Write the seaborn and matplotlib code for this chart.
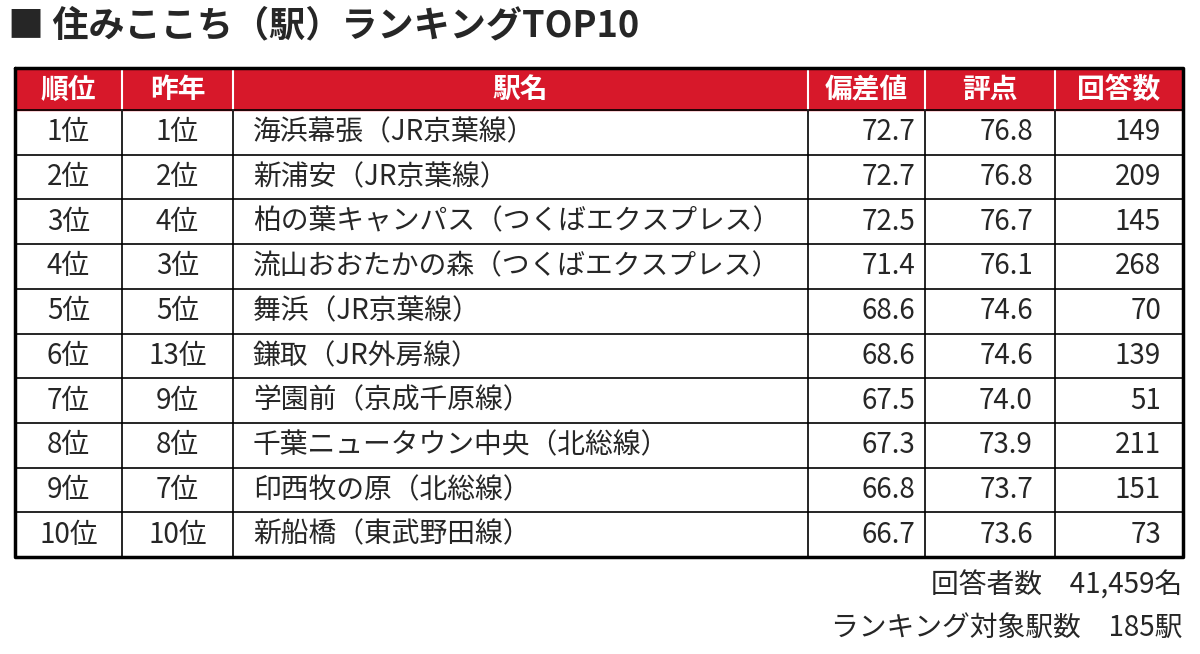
import matplotlib
matplotlib.use("Agg")
import matplotlib.pyplot as plt
import seaborn as sns

sns.set_theme(style="white")
plt.rcParams['font.family'] = ['Noto Sans CJK JP', 'DejaVu Sans']

title = "■ 住みここち（駅）ランキングTOP10"
headers = ["順位", "昨年", "駅名", "偏差値", "評点", "回答数"]
ranks = ["1位", "2位", "3位", "4位", "5位", "6位", "7位", "8位", "9位", "10位"]
last_year = ["1位", "2位", "4位", "3位", "5位", "13位", "9位", "8位", "7位", "10位"]
stations = ["海浜幕張（JR京葉線）", "新浦安（JR京葉線）", "柏の葉キャンパス（つくばエクスプレス）",
            "流山おおたかの森（つくばエクスプレス）", "舞浜（JR京葉線）", "鎌取（JR外房線）",
            "学園前（京成千原線）", "千葉ニュータウン中央（北総線）", "印西牧の原（北総線）",
            "新船橋（東武野田線）"]
deviation = [72.7, 72.7, 72.5, 71.4, 68.6, 68.6, 67.5, 67.3, 66.8, 66.7]
score = [76.8, 76.8, 76.7, 76.1, 74.6, 74.6, 74.0, 73.9, 73.7, 73.6]
answers = [149, 209, 145, 268, 70, 139, 51, 211, 151, 73]
footer = ["回答者数　41,459名", "ランキング対象駅数　185駅"]

cols = [15, 122, 233, 808, 925, 1055, 1183]
top, head_bot, bottom = 68, 110, 557
rh = (bottom - head_bot) / len(ranks)
red = "#d7182a"

fig = plt.figure(figsize=(12, 6.54), dpi=100)
ax = fig.add_axes([0, 0, 1, 1])
ax.set_xlim(0, 1200); ax.set_ylim(654, 0); ax.axis("off")

ax.text(8, 26, title, fontsize=26, fontweight="bold", va="center", ha="left")
ax.fill_between([cols[0], cols[-1]], top, head_bot, color=red, zorder=1)
for i, h in enumerate(headers):
    ax.text((cols[i] + cols[i+1]) / 2, (top + head_bot) / 2 + 1, h, color="white",
            fontsize=20, fontweight="bold", ha="center", va="center", zorder=3)
for x in cols[1:-1]:
    ax.plot([x, x], [top, bottom], color="black", lw=1.2, zorder=2)
    ax.plot([x, x], [top, head_bot], color="white", lw=1.5, zorder=2)
for r in range(len(ranks) + 1):
    y = head_bot + r * rh
    ax.plot([cols[0], cols[-1]], [y, y], color="black", lw=1.2, zorder=2)
ax.plot([cols[0], cols[-1], cols[-1], cols[0], cols[0]], [top, top, bottom, bottom, top],
        color="black", lw=2.5, zorder=4)

for r in range(len(ranks)):
    yc = head_bot + (r + 0.5) * rh
    ax.text((cols[0] + cols[1]) / 2, yc, ranks[r], fontsize=20, ha="center", va="center")
    ax.text((cols[1] + cols[2]) / 2, yc, last_year[r], fontsize=20, ha="center", va="center")
    ax.text(cols[2] + 20, yc, stations[r], fontsize=20, ha="left", va="center")
    ax.text(cols[4] - 10, yc, f"{deviation[r]:.1f}", fontsize=20, ha="right", va="center")
    ax.text(cols[5] - 22, yc, f"{score[r]:.1f}", fontsize=20, ha="right", va="center")
    ax.text(cols[6] - 22, yc, f"{answers[r]}", fontsize=20, ha="right", va="center")

ax.text(1182, 586, footer[0], fontsize=20, ha="right", va="center")
ax.text(1182, 628, footer[1], fontsize=20, ha="right", va="center")

fig.savefig("out.png", dpi=100, facecolor="white")
